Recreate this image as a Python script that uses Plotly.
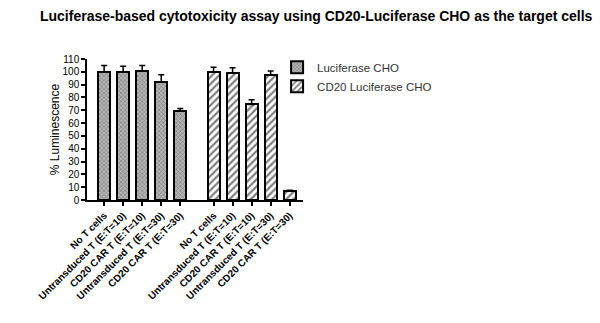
import plotly.graph_objects as go

categories = ["No T cells", "Untransduced T (E:T=10)", "CD20 CAR T (E:T=10)",
              "Untransduced T (E:T=30)", "CD20 CAR T (E:T=30)"]
luc_vals = [99.8, 99.6, 100.9, 92.0, 69.3]
luc_err = [5.2, 4.7, 4.1, 5.8, 2.1]
cd20_vals = [99.6, 99.0, 74.6, 97.5, 6.8]
cd20_err = [3.9, 4.2, 3.6, 3.1, 0.8]
series_names = ["Luciferase CHO", "CD20 Luciferase CHO"]

n = len(categories)
gap = 5.75
x1 = list(range(n))
x2 = [gap + i for i in range(n)]

fig = go.Figure()
fig.add_trace(go.Bar(
    x=x1, y=luc_vals, name=series_names[0], width=0.63,
    marker=dict(color="#8a8a8a", line=dict(color="black", width=2),
                pattern=dict(shape="x", size=3, solidity=0.4, fgcolor="#4a4a4a", bgcolor="#b5b5b5")),
    error_y=dict(type="data", array=luc_err, arrayminus=[0]*n, symmetric=False,
                 color="black", thickness=1.5, width=3),
))
fig.add_trace(go.Bar(
    x=x2, y=cd20_vals, name=series_names[1], width=0.63,
    marker=dict(color="white", line=dict(color="black", width=2),
                pattern=dict(shape="/", size=5, solidity=0.45, fgcolor="black", bgcolor="white")),
    error_y=dict(type="data", array=cd20_err, arrayminus=[0]*n, symmetric=False,
                 color="black", thickness=1.5, width=3),
))

fig.update_layout(
    width=600, height=323,
    margin=dict(l=87, r=297, t=59, b=123),
    paper_bgcolor="white", plot_bgcolor="white",
    font=dict(family="Liberation Sans, Arial, sans-serif", color="black"),
    title=dict(text="<b>Luciferase-based cytotoxicity assay using CD20-Luciferase CHO as the target cells</b>",
               x=0.527, xanchor="center", y=0.95, yanchor="middle",
               font=dict(size=14, color="black")),
    showlegend=True,
    legend=dict(x=0.88, xanchor="left", y=1.045, yanchor="top",
                font=dict(size=11.5, color="#333333"), bgcolor="rgba(0,0,0,0)",
                itemwidth=30, tracegroupgap=0),
    bargap=0,
)
fig.update_xaxes(
    range=[-0.9, 10.45], tickmode="array", tickvals=x1 + x2,
    ticktext=[f"<b>{c}</b>" for c in categories] * 2,
    tickangle=-45, tickfont=dict(size=10, color="black"),
    showline=True, linecolor="black", linewidth=1.5,
    ticks="outside", ticklen=4, tickwidth=1.5, tickcolor="black",
    showgrid=False, zeroline=False,
)
fig.update_yaxes(
    range=[0, 110], tickmode="linear", dtick=10, tick0=0,
    tickvals=list(range(0, 111, 10)),
    ticktext=[f"<b>{v}</b>" for v in range(0, 111, 10)],
    tickfont=dict(size=10, color="black"),
    showline=True, linecolor="black", linewidth=1.5,
    ticks="outside", ticklen=4, tickwidth=1.5, tickcolor="black",
    showgrid=False, zeroline=False,
    title=dict(text="% Luminescence", font=dict(size=12, color="black"), standoff=0),
)

fig.write_html("out.html")
